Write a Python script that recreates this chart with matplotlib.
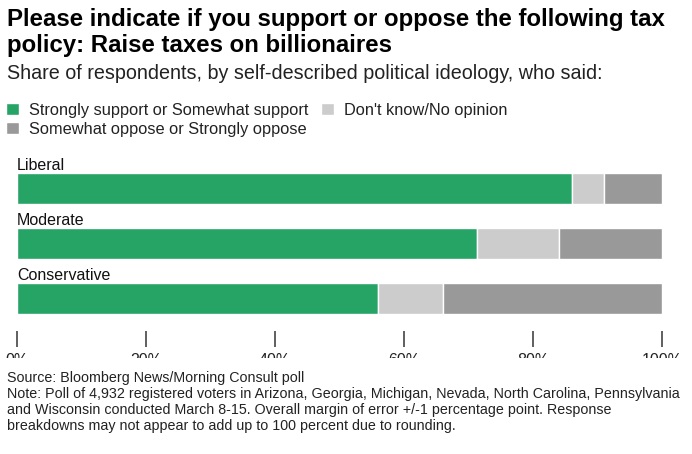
import matplotlib
matplotlib.use("Agg")
import matplotlib.pyplot as plt
from matplotlib.transforms import Bbox

plt.rcParams['font.family'] = ['Liberation Sans', 'DejaVu Sans']

categories = ["Liberal", "Moderate", "Conservative"]
support = [86, 71.3, 56]
dont_know = [5, 12.7, 10]
oppose = [9, 16, 34]
series_labels = ["Strongly support or Somewhat support", "Don't know/No opinion",
                 "Somewhat oppose or Strongly oppose"]
colors = ["#26a465", "#cccccc", "#999999"]
xticks = [0, 20, 40, 60, 80, 100]
xticklabels = ["0%", "20%", "40%", "60%", "80%", "100%"]

title1 = "Please indicate if you support or oppose the following tax"
title2 = "policy: Raise taxes on billionaires"
subtitle = "Share of respondents, by self-described political ideology, who said:"
source = "Source: Bloomberg News/Morning Consult poll"
note_lines = [
    "Note: Poll of 4,932 registered voters in Arizona, Georgia, Michigan, Nevada, North Carolina, Pennsylvania",
    "and Wisconsin conducted March 8-15. Overall margin of error +/-1 percentage point. Response",
    "breakdowns may not appear to add up to 100 percent due to rounding.",
]

W, H = 692, 454
DPI = 100
fig = plt.figure(figsize=(W / DPI, H / DPI), dpi=DPI)

def fx(px):
    return px / W

def fy(py):
    return 1 - py / H

# axes covering bar area: x 17..662, y 173..314
left, right, top, bottom = 17, 662, 173, 314
ax = fig.add_axes([fx(left), fy(bottom), fx(right - left), (bottom - top) / H])

pitch = 55.0
bar_h = 30.5 / pitch
ypos = list(range(len(categories)))
lefts = [0] * len(categories)
for vals, col, lab in zip([support, dont_know, oppose], colors, series_labels):
    ax.barh(ypos, vals, left=lefts, height=bar_h, color=col, edgecolor="white",
            linewidth=1.0, label=lab)
    lefts = [a + b for a, b in zip(lefts, vals)]

ax.set_xlim(0, 100)
ax.set_ylim(len(categories) - 1 + bar_h / 2, -bar_h / 2)
for s in ax.spines.values():
    s.set_visible(False)
ax.set_yticks([])
ax.set_xticks(xticks)
ax.set_xticklabels(xticklabels)
ax.spines['bottom'].set_position(('outward', 17 * 72 / DPI))
ax.tick_params(axis='x', length=16 * 72 / DPI, width=1.2, color="#444444",
               pad=6 * 72 / DPI, labelsize=11.5, labelcolor="#222222")

clip = Bbox.from_extents(0, H - 358, W, H)
for t in ax.xaxis.get_major_ticks():
    t.label1.set_clip_box(clip)
    t.label1.set_clip_on(True)

# category labels above bars
for y, cat in zip(ypos, categories):
    ax.annotate(cat, xy=(0, y - bar_h / 2), xytext=(0, 3 * 72 / DPI),
                textcoords="offset points", ha="left", va="baseline",
                fontsize=11.5, color="#111111", annotation_clip=False)

# titles
fig.text(fx(7), fy(26), title1, fontsize=17.3, fontweight="bold", va="baseline", color="#000000")
fig.text(fx(7), fy(52), title2, fontsize=17.3, fontweight="bold", va="baseline", color="#000000")
fig.text(fx(7), fy(79), subtitle, fontsize=14.2, va="baseline", color="#222222")

# legend
handles, labels = ax.get_legend_handles_labels()
order = [0, 2, 1]
leg = fig.legend([handles[i] for i in order], [labels[i] for i in order],
                 loc="upper left", bbox_to_anchor=(fx(6), fy(103)), ncol=2,
                 frameon=False, fontsize=11.8, borderpad=0, borderaxespad=0,
                 handlelength=0.8, handleheight=0.75, handletextpad=0.6,
                 labelspacing=0.25, columnspacing=0.75)
for t in leg.get_texts():
    t.set_color("#222222")

# footnotes
fig.text(fx(7), fy(382), source, fontsize=10.25, va="baseline", color="#222222")
for i, line in enumerate(note_lines):
    fig.text(fx(7), fy(398 + 16 * i), line, fontsize=10.25, va="baseline", color="#222222")

fig.savefig("out.png", dpi=DPI)
